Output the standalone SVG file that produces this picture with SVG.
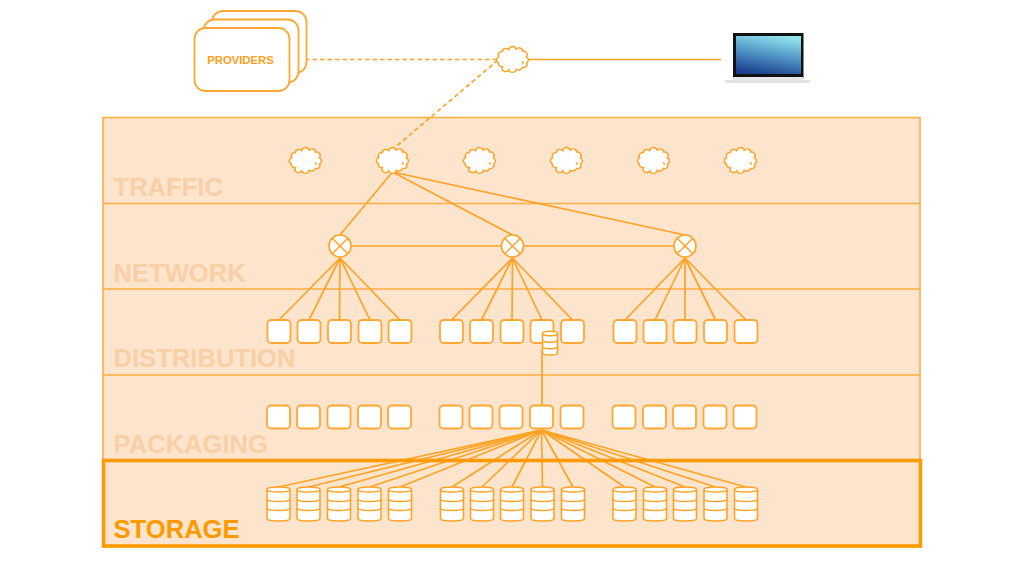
<svg xmlns="http://www.w3.org/2000/svg" width="1024" height="576" viewBox="0 0 1024 576">
<style>
text{font-family:"Liberation Sans",Arial,sans-serif;font-weight:bold}
.layer{fill:#fce4cd;stroke:#ffad42;stroke-width:1.6}
.lbl{font-size:25.6px;fill:#f9cfa6}
.conn line{stroke:#ffa326;stroke-width:1.7;fill:none}
.conn .dash{stroke-dasharray:4.5 3}
.box{fill:#fff;stroke:#ffa733;stroke-width:1.8}
.s{fill:#fff;stroke:#ffa326;stroke-width:1.6}
.b{fill:none;stroke:#ffa326;stroke-width:1.5}
</style>
<defs>
<linearGradient id="scr" x1="0.65" y1="0" x2="0.35" y2="1"><stop offset="0" stop-color="#8fe3ee"/><stop offset="0.5" stop-color="#4f93c4"/><stop offset="1" stop-color="#1c3f8f"/></linearGradient>
<g id="cloud"><path class="s" transform="scale(.95 .88)" d="M14.800 4A3.500 3.500 0 0 1 10.600 9A4.500 4.500 0 0 1 3.900 11.100A4 4 0 0 1-3.900 11.800A3.500 3.500 0 0 1-10.600 8.100A4 4 0 0 1-15 3.500A3.500 3.500 0 0 1-14.500-3A4 4 0 0 1-10.600-9A3.500 3.500 0 0 1-3.900-10.500A3 3 0 0 1 3.900-11.100A3.500 3.500 0 0 1 10.600-9.500A4 4 0 0 1 14.500-3A4 4 0 0 1 14.800 4z"/><path class="b" d="M9.500 2l1.800 2"/></g>
<rect id="node" class="box" x="-11.500" y="-11.500" width="23" height="23" rx="4"/>
<g id="cyl"><path class="s" d="M-11.500-14v29c0 1.500 5 2.500 11.500 2.500s11.500-1 11.500-2.500v-29c0-1.500-5-2.500-11.500-2.500s-11.500 1-11.500 2.500z"/><path class="b" d="M-11.500-14c0 1.500 5 2.500 11.500 2.500s11.500-1 11.500-2.500M-11.500-4.500c0 1.500 5 2.500 11.500 2.500s11.500-1 11.500-2.500M-11.500 4.500c0 1.500 5 2.500 11.500 2.500s11.500-1 11.500-2.500"/></g>
<g id="sw"><circle class="s" r="11"/><path class="b" d="M-7.800-7.800L7.800 7.800M-7.800 7.800L7.800-7.800"/></g>
</defs>
<g id="layers">
<rect class="layer" x="103" y="117.500" width="817" height="429"/>
<path fill="none" stroke="#ffad42" stroke-width="1.600" d="M103 203.500H920M103 289H920M103 375H920"/>
<text class="lbl" x="113.500" y="196">TRAFFIC</text>
<text class="lbl" x="113.500" y="282">NETWORK</text>
<text class="lbl" x="113.500" y="367">DISTRIBUTION</text>
<text class="lbl" x="113.500" y="453">PACKAGING</text>
</g>
<g id="connectors" class="conn">
<line class="dash" x1="290" y1="59.500" x2="500" y2="59.500"/>
<line x1="527" y1="59.500" x2="721" y2="59.500"/>
<line class="dash" x1="498" y1="60" x2="392" y2="150"/>
<line x1="392.500" y1="172" x2="340" y2="235"/>
<line x1="392.500" y1="172" x2="512.500" y2="235"/>
<line x1="392.500" y1="172" x2="685" y2="235"/>
<line x1="340" y1="246" x2="685" y2="246"/>
<line x1="340" y1="258" x2="279" y2="320"/><line x1="340" y1="258" x2="309" y2="320"/><line x1="340" y1="258" x2="339.500" y2="320"/><line x1="340" y1="258" x2="370" y2="320"/><line x1="340" y1="258" x2="400" y2="320"/>
<line x1="512.500" y1="258" x2="451.500" y2="320"/><line x1="512.500" y1="258" x2="481.500" y2="320"/><line x1="512.500" y1="258" x2="512" y2="320"/><line x1="512.500" y1="258" x2="542" y2="320"/><line x1="512.500" y1="258" x2="572.500" y2="320"/>
<line x1="685" y1="258" x2="625" y2="320"/><line x1="685" y1="258" x2="655" y2="320"/><line x1="685" y1="258" x2="685" y2="320"/><line x1="685" y1="258" x2="715.500" y2="320"/><line x1="685" y1="258" x2="746" y2="320"/>
<line x1="542" y1="350" x2="542" y2="406"/>
<line x1="541.500" y1="430" x2="278.500" y2="487"/><line x1="541.500" y1="430" x2="308.500" y2="487"/><line x1="541.500" y1="430" x2="339" y2="487"/><line x1="541.500" y1="430" x2="369.500" y2="487"/><line x1="541.500" y1="430" x2="400" y2="487"/>
<line x1="541.500" y1="430" x2="452" y2="487"/><line x1="541.500" y1="430" x2="482" y2="487"/><line x1="541.500" y1="430" x2="512" y2="487"/><line x1="541.500" y1="430" x2="542.500" y2="487"/><line x1="541.500" y1="430" x2="573" y2="487"/>
<line x1="541.500" y1="430" x2="624.500" y2="487"/><line x1="541.500" y1="430" x2="655" y2="487"/><line x1="541.500" y1="430" x2="685" y2="487"/><line x1="541.500" y1="430" x2="715.500" y2="487"/><line x1="541.500" y1="430" x2="746" y2="487"/>
</g>
<g id="storage-frame">
<rect x="103.500" y="460.500" width="817" height="85.500" fill="none" stroke="#ff9900" stroke-width="3.600"/>
<text x="113.500" y="538" font-size="25.600" fill="#ff9900">STORAGE</text>
</g>
<g id="providers">
<rect class="box" x="212" y="11" width="94.500" height="62" rx="11"/>
<rect class="box" x="203.500" y="19.500" width="95" height="63" rx="11"/>
<rect class="box" x="194.500" y="28" width="95" height="63" rx="11"/>
<text x="240.500" y="63.500" font-size="11.300" fill="#ff9f1a" text-anchor="middle">PROVIDERS</text>
</g>
<g id="laptop">
<path d="M724 80h87l-2 3h-83z" fill="#dfe2e5"/>
<rect x="733" y="33" width="70.500" height="45" fill="#111"/>
<rect x="736" y="36" width="65" height="38" fill="url(#scr)"/>
<rect x="733" y="77" width="70" height="3.500" fill="#e6e8ea"/>
</g>
<g id="cloud-top"><use href="#cloud" x="512.500" y="59.500"/></g>
<g id="cloud-1"><use href="#cloud" x="305.500" y="160.500"/></g>
<g id="cloud-2"><use href="#cloud" x="392.500" y="160.500"/></g>
<g id="cloud-3"><use href="#cloud" x="479.500" y="160.500"/></g>
<g id="cloud-4"><use href="#cloud" x="566.500" y="160.500"/></g>
<g id="cloud-5"><use href="#cloud" x="653.500" y="160.500"/></g>
<g id="cloud-6"><use href="#cloud" x="740.500" y="160.500"/></g>
<g id="switch-1"><use href="#sw" x="340" y="246"/></g>
<g id="switch-2"><use href="#sw" x="512.500" y="246"/></g>
<g id="switch-3"><use href="#sw" x="685" y="246"/></g>
<g id="distribution-nodes">
<use href="#node" x="279" y="331.500"/><use href="#node" x="309" y="331.500"/><use href="#node" x="339.500" y="331.500"/><use href="#node" x="370" y="331.500"/><use href="#node" x="400" y="331.500"/>
<use href="#node" x="451.500" y="331.500"/><use href="#node" x="481.500" y="331.500"/><use href="#node" x="512" y="331.500"/><use href="#node" x="542" y="331.500"/><use href="#node" x="572.500" y="331.500"/>
<use href="#node" x="625" y="331.500"/><use href="#node" x="655" y="331.500"/><use href="#node" x="685" y="331.500"/><use href="#node" x="715.500" y="331.500"/><use href="#node" x="746" y="331.500"/>
</g>
<g id="cache"><path class="s" d="M542.500 333.500v19.500c0 1.500 3.500 2 7.500 2s7.500-.5 7.500-2v-19.500c0-1.500-3.500-2.200-7.500-2.200s-7.500 .7-7.500 2.200z"/><path class="b" d="M542.500 333.500c0 1.500 3.500 2.200 7.500 2.200s7.500-.7 7.500-2.200M542.500 340c0 1.500 3.500 2.200 7.500 2.200s7.500-.7 7.500-2.200M542.500 346.500c0 1.500 3.500 2.200 7.500 2.200s7.500-.7 7.500-2.200"/></g>
<g id="packaging-nodes">
<use href="#node" x="278.500" y="417"/><use href="#node" x="308.500" y="417"/><use href="#node" x="339" y="417"/><use href="#node" x="369.500" y="417"/><use href="#node" x="399.500" y="417"/>
<use href="#node" x="451" y="417"/><use href="#node" x="481" y="417"/><use href="#node" x="511" y="417"/><use href="#node" x="541.500" y="417"/><use href="#node" x="572" y="417"/>
<use href="#node" x="624" y="417"/><use href="#node" x="654.500" y="417"/><use href="#node" x="684.500" y="417"/><use href="#node" x="715" y="417"/><use href="#node" x="745" y="417"/>
</g>
<g id="storage-nodes">
<use href="#cyl" x="278.500" y="503.500"/><use href="#cyl" x="308.500" y="503.500"/><use href="#cyl" x="339" y="503.500"/><use href="#cyl" x="369.500" y="503.500"/><use href="#cyl" x="400" y="503.500"/>
<use href="#cyl" x="452" y="503.500"/><use href="#cyl" x="482" y="503.500"/><use href="#cyl" x="512" y="503.500"/><use href="#cyl" x="542.500" y="503.500"/><use href="#cyl" x="573" y="503.500"/>
<use href="#cyl" x="624.500" y="503.500"/><use href="#cyl" x="655" y="503.500"/><use href="#cyl" x="685" y="503.500"/><use href="#cyl" x="715.500" y="503.500"/><use href="#cyl" x="746" y="503.500"/>
</g>
</svg>
